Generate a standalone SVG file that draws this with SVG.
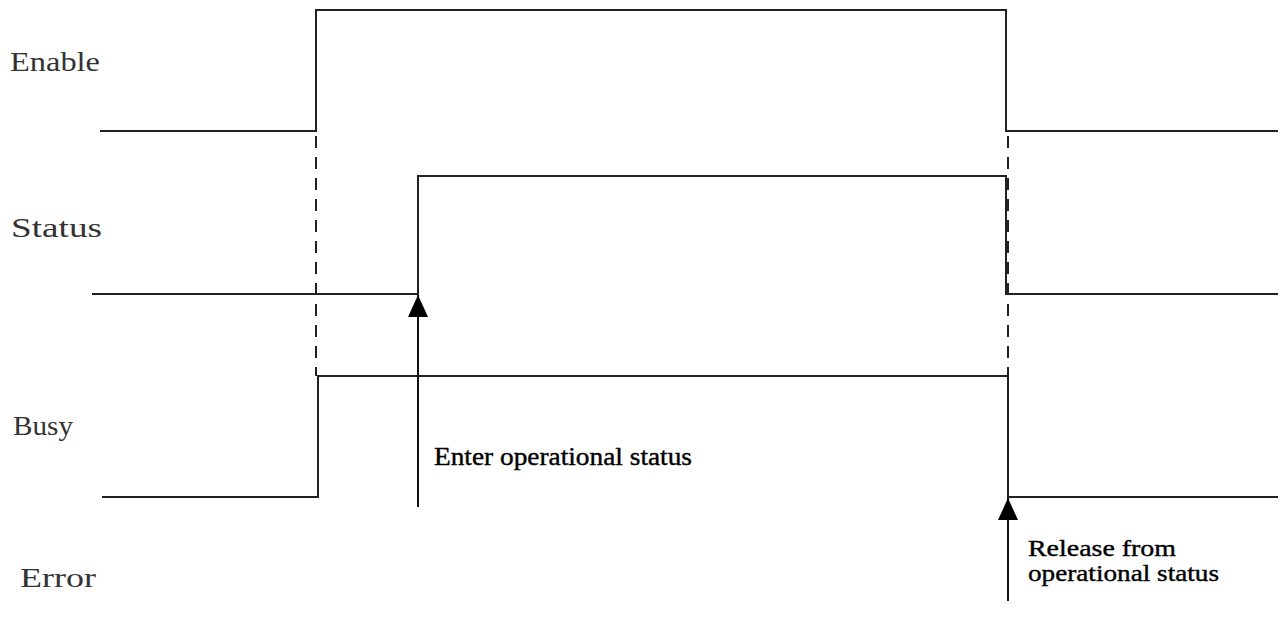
<svg xmlns="http://www.w3.org/2000/svg" width="1280" height="617" viewBox="0 0 1280 617">
<style>
.sig{fill:none;stroke:#222;stroke-width:2}
.dash{fill:none;stroke:#222;stroke-width:2;stroke-dasharray:12,9}
.arr{fill:none;stroke:#111;stroke-width:2}
.lbl{font-family:"Liberation Serif",serif;font-size:27px;fill:#333}
.note{font-family:"Liberation Serif",serif;font-size:23px;fill:#000;stroke:#000;stroke-width:0.4}
</style>
<defs>
<marker id="ah" markerWidth="22" markerHeight="20" refX="22" refY="10" orient="auto" markerUnits="userSpaceOnUse" viewBox="0 0 22 20">
<path d="M0,0 L22,10 L0,20 Z" fill="#000"/>
</marker>
</defs>
<rect width="1280" height="617" fill="#fff"/>
<g id="label-enable"><text class="lbl" x="10" y="71" textLength="90" lengthAdjust="spacingAndGlyphs">Enable</text></g>
<g id="label-status"><text class="lbl" x="11" y="237" textLength="91" lengthAdjust="spacingAndGlyphs">Status</text></g>
<g id="label-busy"><text class="lbl" x="13" y="435" textLength="60" lengthAdjust="spacingAndGlyphs">Busy</text></g>
<g id="label-error"><text class="lbl" x="20" y="587" textLength="76" lengthAdjust="spacingAndGlyphs">Error</text></g>
<g id="signals">
<polyline id="enable" class="sig" points="100,131 316,131 316,10 1006,10 1006,131 1278,131"/>
<polyline id="status" class="sig" points="92,294 418,294 418,176 1006,176 1006,294 1278,294"/>
<polyline id="busy" class="sig" points="102,497 318,497 318,376 1008,376 1008,497 1278,497"/>
</g>
<g id="connectors">
<line class="dash" x1="316" y1="136" x2="316" y2="376"/>
<line class="dash" x1="1008" y1="136" x2="1008" y2="376"/>
<path class="arr" d="M418,507 L418,295" marker-end="url(#ah)"/>
<path class="arr" d="M1008,601 L1008,498" marker-end="url(#ah)"/>
</g>
<g id="note-enter"><text class="note" x="434" y="465" style="font-size:26px" textLength="258" lengthAdjust="spacingAndGlyphs">Enter operational status</text></g>
<g id="note-release">
<text class="note" x="1028" y="556" style="font-size:24px" textLength="148" lengthAdjust="spacingAndGlyphs">Release from</text>
<text class="note" x="1028" y="581" style="font-size:24px" textLength="191" lengthAdjust="spacingAndGlyphs">operational status</text>
</g>
</svg>
